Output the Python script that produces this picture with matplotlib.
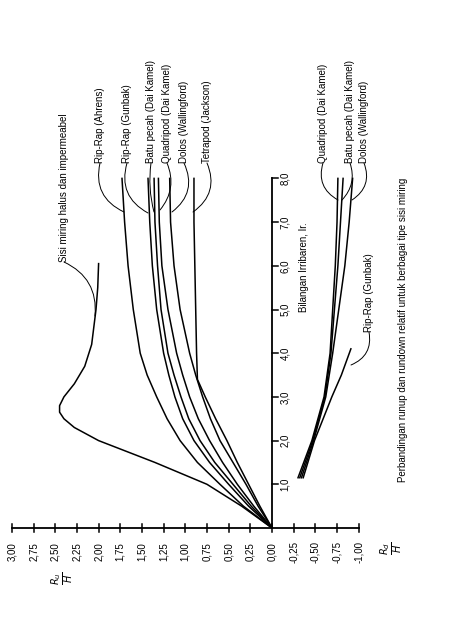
import matplotlib
matplotlib.use("Agg")
import matplotlib.pyplot as plt

plt.rcParams['font.family'] = ['Liberation Sans', 'DejaVu Sans']

# Irribaren number samples (vertical axis in rotated chart) and R/H values
ir_halus = [0, 0.5, 1.0, 1.5, 2.0, 2.3, 2.5, 2.65, 2.8, 3.0, 3.3, 3.7, 4.2, 5.0, 5.5, 6.05]
ru_halus = [0, 0.35, 0.75, 1.35, 2.0, 2.28, 2.4, 2.45, 2.45, 2.4, 2.28, 2.16, 2.08, 2.03, 2.01, 2.0]

ir_up = [0, 0.5, 1.0, 1.5, 2.0, 2.5, 3.0, 3.5, 4.0, 5.0, 6.0, 7.0, 8.0]
ru_ahrens = [0, 0.33, 0.6, 0.86, 1.06, 1.21, 1.33, 1.44, 1.52, 1.6, 1.66, 1.7, 1.73]
ru_gunbak = [0, 0.27, 0.5, 0.72, 0.9, 1.03, 1.12, 1.19, 1.25, 1.33, 1.38, 1.41, 1.43]
ru_batu = [0, 0.24, 0.45, 0.66, 0.83, 0.96, 1.05, 1.13, 1.2, 1.28, 1.32, 1.35, 1.36]
ru_quad = [0, 0.21, 0.4, 0.57, 0.72, 0.85, 0.95, 1.03, 1.1, 1.2, 1.27, 1.3, 1.31]
ru_dolos = [0, 0.16, 0.3, 0.45, 0.6, 0.71, 0.8, 0.88, 0.95, 1.06, 1.13, 1.17, 1.18]
ir_tetra = [0, 0.5, 1.0, 1.5, 2.0, 2.5, 3.0, 3.4, 4.0, 5.0, 6.0, 7.0, 8.0]
ru_tetra = [0, 0.14, 0.27, 0.4, 0.52, 0.65, 0.77, 0.86, 0.87, 0.88, 0.89, 0.9, 0.9]

ir_down = [1.15, 2.0, 3.0, 4.0, 5.0, 6.0, 7.0, 8.0]
rd_quad = [-0.30, -0.46, -0.6, -0.67, -0.7, -0.73, -0.75, -0.76]
rd_batu = [-0.32, -0.47, -0.61, -0.68, -0.72, -0.76, -0.79, -0.82]
rd_dolos = [-0.34, -0.48, -0.62, -0.7, -0.77, -0.84, -0.89, -0.93]
ir_gunbak_d = [1.15, 2.0, 3.0, 3.5, 4.1]
rd_gunbak = [-0.36, -0.49, -0.69, -0.8, -0.91]

r_ticks = [3.0, 2.75, 2.5, 2.25, 2.0, 1.75, 1.5, 1.25, 1.0, 0.75, 0.5, 0.25, 0.0, -0.25, -0.5, -0.75, -1.0]
r_labels = ['3,00', '2,75', '2,50', '2,25', '2,00', '1,75', '1,50', '1,25', '1,00',
            '0,75', '0,50', '0,25', '0,00', '-0,25', '-0,50', '-0,75', '-1,00']
ir_ticks = [1, 2, 3, 4, 5, 6, 7, 8]
ir_labels = ['1,0', '2,0', '3,0', '4,0', '5,0', '6,0', '7,0', '8,0']

fig = plt.figure(figsize=(4.74, 6.32), dpi=100)
ax = fig.add_axes([0, 0, 1, 1])
SX, X0 = 86.7, 272.0
SY, Y0 = 43.7, 528.0
ax.set_xlim((X0 - 0) / SX, (X0 - 474) / SX)
ax.set_ylim((Y0 - 632) / SY, Y0 / SY)
ax.axis('off')

def P(px, py):
    return ((X0 - px) / SX, (Y0 - py) / SY)

lw = 1.1
k = 'black'
ax.plot(ru_halus, ir_halus, color=k, lw=lw)
for r in [ru_ahrens, ru_gunbak, ru_batu, ru_quad, ru_dolos]:
    ax.plot(r, ir_up, color=k, lw=lw)
ax.plot(ru_tetra, ir_tetra, color=k, lw=lw)
for r in [rd_quad, rd_batu, rd_dolos]:
    ax.plot(r, ir_down, color=k, lw=lw)
ax.plot(rd_gunbak, ir_gunbak_d, color=k, lw=lw)

# axes
ax.plot([r_ticks[0], r_ticks[-1]], [0, 0], color=k, lw=1.3)
ax.plot([0, 0], [0, 8], color=k, lw=1.3)
for t, lab in zip(r_ticks, r_labels):
    ax.plot([t, t], [-0.1, 0.1], color=k, lw=1.1)
    ax.text(t, -0.55, lab, rotation=90, ha='center', va='center', fontsize=7)
for t, lab in zip(ir_ticks, ir_labels):
    ax.plot([0, -0.07], [t, t], color=k, lw=1.1)
    ax.text(-0.15, t, lab, rotation=90, ha='center', va='center', fontsize=7)

fs = 7
def txt(px, py, s, **kw):
    x, y = P(px, py)
    ax.text(x, y, s, rotation=90, ha='center', va='center', fontsize=fs, **kw)

txt(65, 580, r'$\frac{R_u}{H}$', fontsize=10) if False else None
x, y = P(63, 578)
ax.text(x, y, r'$\frac{R_u}{H}$', rotation=90, ha='center', va='center', fontsize=10)
x, y = P(392, 548)
ax.text(x, y, r'$\frac{R_d}{H}$', rotation=90, ha='center', va='center', fontsize=10)
txt(304, 267, 'Bilangan Irribaren, Ir.')
txt(403, 330, 'Perbandingan runup dan rundown relatif untuk berbagai tipe sisi miring')

labels = [
    (64, 262, 'Sisi miring halus dan impermeabel', (95, 316), -0.35),
    (100, 163, 'Rip-Rap (Ahrens)', (124, 212), 0.4),
    (127, 163, 'Rip-Rap (Gunbak)', (148, 213), 0.4),
    (151, 163, 'Batu pecah (Dai Kamel)', (154, 212), 0.1),
    (167, 163, 'Quadripod (Dai Kamel)', (160, 210), -0.3),
    (184, 163, 'Dolos (Wallingford)', (172, 212), -0.4),
    (207, 163, 'Tetrapod (Jackson)', (193, 212), -0.4),
    (323, 163, 'Quadripod (Dai Kamel)', (338, 200), 0.4),
    (350, 163, 'Batu pecah (Dai Kamel)', (342, 200), -0.3),
    (364, 163, 'Dolos (Wallingford)', (352, 200), -0.4),
    (369, 332, 'Rip-Rap (Gunbak)', (351, 365), -0.4),
]
for px, py, s, tgt, rad in labels:
    x, y = P(px, py)
    ax.text(x, y, s, rotation=90, ha='center', va='bottom', fontsize=fs)
    ax.annotate('', xy=P(*tgt), xytext=(x, y),
                arrowprops=dict(arrowstyle='-', color=k, lw=0.7,
                                connectionstyle=f'arc3,rad={rad}',
                                shrinkA=0, shrinkB=0))

fig.savefig('out.png', dpi=100)
